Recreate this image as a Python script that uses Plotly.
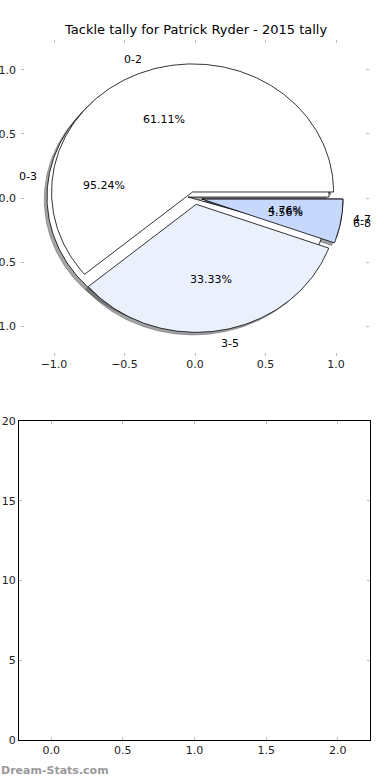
import numpy as np
import plotly.graph_objects as go

TITLE = "Tackle tally for Patrick Ryder - 2015 tally"

pie1_labels = ["0-2", "3-5", "6-8"]
pie1_values = [11, 6, 1]
pie1_colors = ["#ffffff", "#eaf1fd", "#c6d9fd"]

pie2_labels = ["0-3", "4-7"]
pie2_values = [20, 1]
pie2_colors = ["#ffffff", "#eaf1fd"]

EXPLODE = 0.05
SHADOW = (-0.02, -0.02)

pie_ticks = [-1.0, -0.5, 0.0, 0.5, 1.0]
bottom_xticks = [0.0, 0.5, 1.0, 1.5, 2.0]
bottom_yticks = [0, 5, 10, 15, 20]

W, H = 390, 780
FONT = "DejaVu Sans"


def wedges(values, explode):
    total = float(sum(values))
    out = []
    t1 = 0.0
    for v in values:
        t2 = t1 + 360.0 * v / total
        mid = np.radians((t1 + t2) / 2)
        cx, cy = explode * np.cos(mid), explode * np.sin(mid)
        th = np.radians(np.linspace(t1, t2, max(int(t2 - t1), 2) + 1))
        xs = np.concatenate([[cx], cx + np.cos(th), [cx]])
        ys = np.concatenate([[cy], cy + np.sin(th), [cy]])
        out.append((xs, ys, mid, cx, cy, 100.0 * v / total))
        t1 = t2
    return out


def shade(hexcol):
    h = hexcol.lstrip("#")
    r, g, b = (int(h[i:i + 2], 16) for i in (0, 2, 4))
    return "rgba(%d,%d,%d,0.5)" % (r * 0.3, g * 0.3, b * 0.3)


fig = go.Figure()
w1 = wedges(pie1_values, EXPLODE)
w2 = wedges(pie2_values, EXPLODE)

# shadows first (behind all wedges)
for ws, cols in ((w2, pie2_colors), (w1, pie1_colors)):
    for (xs, ys, *_), c in zip(ws, cols):
        fig.add_trace(go.Scatter(x=xs + SHADOW[0], y=ys + SHADOW[1], mode="lines",
                                 fill="toself", fillcolor=shade(c),
                                 line=dict(color=shade(c), width=0.8),
                                 hoverinfo="skip", showlegend=False))
# wedges: pie 2 below, pie 1 on top
for ws, cols in ((w2, pie2_colors), (w1, pie1_colors)):
    for (xs, ys, *_), c in zip(ws, cols):
        fig.add_trace(go.Scatter(x=xs, y=ys, mode="lines", fill="toself",
                                 fillcolor=c, line=dict(color="black", width=0.8),
                                 hoverinfo="skip", showlegend=False))

# empty lower axes
fig.add_trace(go.Scatter(x=[], y=[], xaxis="x2", yaxis="y2", mode="markers",
                         hoverinfo="skip", showlegend=False))

annotations = []
for ws, labs in ((w2, pie2_labels), (w1, pie1_labels)):
    for (xs, ys, mid, cx, cy, pct), lab in zip(ws, labs):
        lx, ly = cx + 1.1 * np.cos(mid), cy + 1.1 * np.sin(mid)
        right = lx > 0
        annotations.append(dict(x=lx, y=ly, xref="x", yref="y", text=lab,
                                showarrow=False, xanchor="left" if right else "right",
                                xshift=-3 if right else 3, borderpad=0,
                                yanchor="middle", font=dict(size=11, color="black", family=FONT)))
        px, py = cx + 0.6 * np.cos(mid), cy + 0.6 * np.sin(mid)
        annotations.append(dict(x=px, y=py, xref="x", yref="y", text="%.2f%%" % pct,
                                showarrow=False, xanchor="center", yanchor="middle",
                                font=dict(size=11, color="black", family=FONT)))

annotations.append(dict(x=0.5, y=1 - 30 / H, xref="paper", yref="paper", text=TITLE,
                        showarrow=False, xanchor="center", yanchor="middle",
                        font=dict(size=13, color="black", family=FONT)))
annotations.append(dict(x=0, y=1 - 770 / H, xref="paper", yref="paper",
                        text="<b>Dream-Stats.com</b>", showarrow=False, borderpad=0,
                        xanchor="left", yanchor="middle",
                        font=dict(size=11, color="#9a9a9a", family=FONT)))

tick_font = dict(size=11, color="#222222", family=FONT)
common_top = dict(showgrid=False, zeroline=False, showline=False, ticks="inside",
                  ticklen=3, tickcolor="#bbbbbb", tickwidth=1, mirror="ticks",
                  tickfont=tick_font, tickformat=".1f")

fig.update_layout(
    width=W, height=H, plot_bgcolor="white", paper_bgcolor="white",
    margin=dict(l=0, r=0, t=0, b=0, autoexpand=False),
    showlegend=False,
    xaxis=dict(domain=[21 / W, 369 / W], range=[-1.234, 1.234], anchor="y",
               tickvals=pie_ticks, **common_top),
    yaxis=dict(domain=[1 - 356 / H, 1 - 40 / H], range=[-1.234, 1.234], anchor="x",
               tickvals=pie_ticks, ticklabelstandoff=4, **common_top),
    xaxis2=dict(domain=[19 / W, 370 / W], range=[-0.225, 2.225], anchor="y2",
                tickvals=bottom_xticks, tickformat=".1f", showgrid=False, zeroline=False,
                showline=True, linecolor="black", linewidth=1, mirror="ticks",
                ticks="inside", ticklen=3, tickcolor="#bbbbbb", tickfont=tick_font),
    yaxis2=dict(domain=[1 - 740 / H, 1 - 421 / H], range=[0, 20], anchor="x2",
                tickvals=bottom_yticks, showgrid=False, zeroline=False,
                showline=True, linecolor="black", linewidth=1, mirror="ticks",
                ticks="inside", ticklen=3, tickcolor="#bbbbbb", tickfont=tick_font),
    annotations=annotations,
)

fig.write_html("out.html", config={"displayModeBar": False},
               post_script="document.body.style.margin='0';document.body.style.padding='0';")
